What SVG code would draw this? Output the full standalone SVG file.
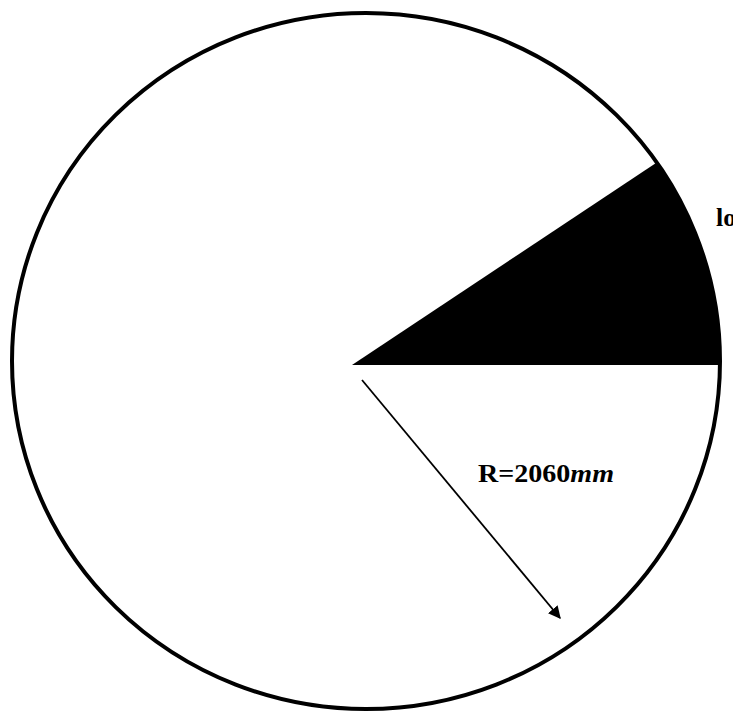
<svg xmlns="http://www.w3.org/2000/svg" width="733" height="713" viewBox="0 0 733 713">
<style>
.lbl{font-family:"Liberation Serif","Times New Roman",serif;font-weight:bold;font-size:26px;fill:#000}
</style>
<defs>
<marker id="ah" viewBox="0 0 10 10" refX="9" refY="5" markerWidth="7" markerHeight="7" orient="auto" markerUnits="strokeWidth">
<path d="M0,0 L10,5 L0,10 Z" fill="#000"/>
</marker>
</defs>
<rect width="733" height="713" fill="#fff"/>
<g id="circle">
<ellipse cx="366" cy="361" rx="354" ry="348" fill="none" stroke="#000" stroke-width="4"/>
</g>
<g id="sector">
<path d="M352,365 L656,163 A354,348 0 0 1 720,365 Z" fill="#000"/>
</g>
<g id="connectors">
<line x1="362" y1="380" x2="560" y2="618" stroke="#000" stroke-width="1.8" marker-end="url(#ah)"/>
</g>
<g id="labels">
<text class="lbl" x="716" y="226">lo</text>
<text class="lbl" x="478" y="482" textLength="136" lengthAdjust="spacingAndGlyphs">R=2060<tspan font-style="italic">mm</tspan></text>
</g>
</svg>
